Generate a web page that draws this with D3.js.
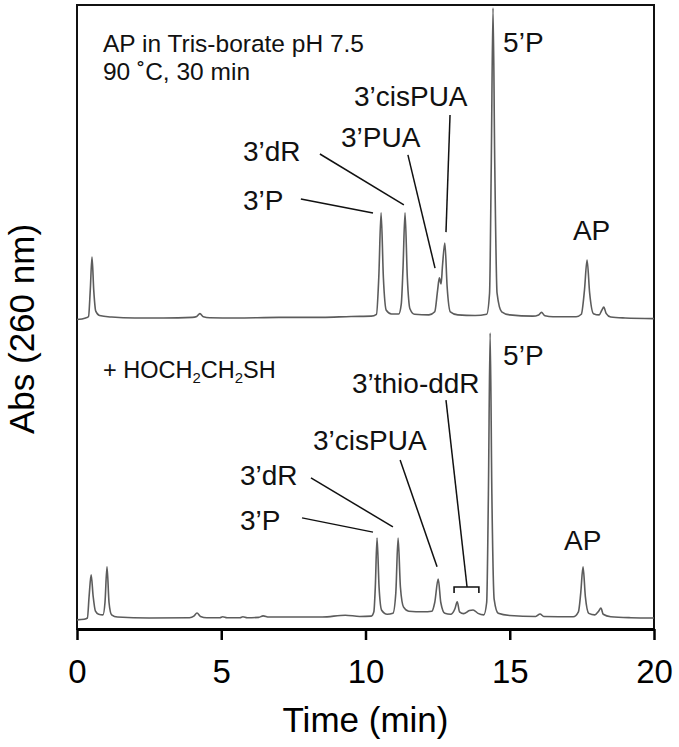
<!DOCTYPE html>
<html>
<head>
<meta charset="utf-8">
<script src="https://cdn.jsdelivr.net/npm/d3@7"></script>
<style>
  html, body { margin: 0; padding: 0; background: #fff; }
  svg { display: block; font-family: "Liberation Sans", Arial, Helvetica, sans-serif; }
</style>
</head>
<body>
<svg id="chart" width="679" height="747"></svg>
<script>
// ---------- DATA ----------
const xTicks = [0, 5, 10, 15, 20];

// upper trace: AP in Tris-borate pH 7.5, 90 ˚C, 30 min
const topTime = [0.0, 0.3, 0.4, 0.46, 0.52, 0.58, 0.65, 0.78, 1.2, 2.0, 3.0, 4.0, 4.15, 4.26, 4.38, 4.6, 5.5, 7.0, 8.5, 9.5,
  10.2, 10.38, 10.46, 10.54, 10.62, 10.72, 10.9, 11.15, 11.24, 11.3, 11.37, 11.45, 11.54, 11.7, 12.2, 12.4, 12.5, 12.56, 12.62, 12.67,
  12.75, 12.83, 12.94, 13.2, 13.8, 14.2, 14.3, 14.36, 14.42, 14.48, 14.56, 14.72, 15.0, 15.8, 16.0, 16.1, 16.22, 16.5, 17.3, 17.48,
  17.59, 17.68, 17.77, 17.9, 18.1, 18.19, 18.26, 18.34, 18.5, 19.0, 20.0];
const topAbs = [-0.005, 0.0, 0.005, 0.09, 0.197, 0.09, 0.022, 0.008, 0.003, 0.0, 0.0, 0.002, 0.005, 0.014, 0.004, 0.001, 0.0, 0.002, 0.002, 0.005,
  0.006, 0.012, 0.13, 0.339, 0.13, 0.025, 0.013, 0.013, 0.045, 0.16, 0.339, 0.13, 0.03, 0.012, 0.01, 0.02, 0.09, 0.13, 0.11, 0.17,
  0.242, 0.1, 0.02, 0.01, 0.008, 0.012, 0.08, 0.5, 1.0, 0.5, 0.08, 0.02, 0.01, 0.006, 0.01, 0.018, 0.007, 0.004, 0.004, 0.012,
  0.09, 0.187, 0.08, 0.014, 0.01, 0.025, 0.035, 0.015, 0.003, 0.0, -0.002];

// lower trace: + HOCH2CH2SH
const botTime = [0.0, 0.25, 0.36, 0.42, 0.49, 0.56, 0.64, 0.75, 0.9, 0.97, 1.04, 1.11, 1.2, 1.4, 2.5, 3.9, 4.05, 4.16, 4.28, 4.5,
  4.95, 5.05, 5.2, 5.65, 5.75, 5.9, 6.3, 6.45, 6.65, 8.5, 9.3, 9.8, 10.2, 10.29, 10.34, 10.4, 10.47, 10.56, 10.75, 10.95,
  11.05, 11.13, 11.21, 11.32, 11.5, 12.0, 12.3, 12.4, 12.52, 12.61, 12.75, 12.95, 13.1, 13.18, 13.26, 13.4, 13.6, 13.73, 13.9, 14.1,
  14.2, 14.26, 14.32, 14.38, 14.46, 14.6, 15.0, 15.9, 16.05, 16.18, 17.2, 17.38, 17.46, 17.54, 17.62, 17.74, 17.95, 18.08, 18.16, 18.24,
  18.5, 19.2, 20.0];
const botAbs = [-0.006, -0.004, 0.0, 0.07, 0.139, 0.07, 0.022, 0.012, 0.01, 0.05, 0.165, 0.05, 0.01, 0.003, 0.0, 0.001, 0.006, 0.016, 0.005, 0.001,
  0.001, 0.004, 0.001, 0.001, 0.004, 0.001, 0.002, 0.007, 0.003, 0.003, 0.009, 0.005, 0.006, 0.02, 0.1, 0.258, 0.1, 0.025, 0.012, 0.015,
  0.08, 0.258, 0.1, 0.035, 0.022, 0.02, 0.022, 0.05, 0.126, 0.05, 0.015, 0.012, 0.03, 0.052, 0.02, 0.014, 0.024, 0.026, 0.015, 0.01,
  0.05, 0.4, 0.919, 0.4, 0.06, 0.015, 0.008, 0.005, 0.013, 0.005, 0.004, 0.02, 0.08, 0.165, 0.07, 0.015, 0.01, 0.022, 0.032, 0.012,
  0.004, 0.001, 0.0];

// peak labels
const topLabels = ["5’P", "3’cisPUA", "3’PUA", "3’dR", "3’P", "AP"];
const botLabels = ["5’P", "3’thio-ddR", "3’cisPUA", "3’dR", "3’P", "AP"];

// ---------- LAYOUT ----------
const svg = d3.select("#chart");
const L = 77, R = 654, T = 5, B = 629;
const x = d3.scaleLinear().domain([0, 20]).range([L, R]);
const yTop = d3.scaleLinear().domain([0, 1]).range([318, 8]);
const yBot = d3.scaleLinear().domain([0, 1]).range([618, 308]);

// annotation placement in data coordinates [time, abs]
const topLabelPos = [[14.77, 0.858], [9.6, 0.684], [9.15, 0.552], [5.75, 0.506], [5.75, 0.348], [17.19, 0.252]];
const topLeaders = [null, [[12.93, 0.655], [12.79, 0.277]], [[11.47, 0.526], [12.41, 0.161]],
  [[8.42, 0.529], [11.33, 0.365]], [[7.76, 0.384], [10.26, 0.339]], null];
const botLabelPos = [[14.77, 0.816], [9.53, 0.726], [8.18, 0.542], [5.65, 0.429], [5.65, 0.284], [16.88, 0.219]];
const botLeaders = [null, [[12.79, 0.703], [13.52, 0.1]], [[11.2, 0.51], [12.48, 0.165]],
  [[8.11, 0.452], [10.95, 0.294]], [[7.8, 0.323], [10.26, 0.277]], null];

// frame
svg.append("rect").attr("x", L).attr("y", T).attr("width", R - L).attr("height", B - T)
  .attr("fill", "none").attr("stroke", "#111").attr("stroke-width", 2);

// traces
const line = (ys) => d3.line().x(d => x(d[0])).y(d => ys(d[1])).curve(d3.curveMonotoneX);
svg.append("path").datum(topTime.map((t, i) => [t, topAbs[i]]))
  .attr("d", line(yTop)).attr("fill", "none").attr("stroke", "#5c5c5c").attr("stroke-width", 1.6);
svg.append("path").datum(botTime.map((t, i) => [t, botAbs[i]]))
  .attr("d", line(yBot)).attr("fill", "none").attr("stroke", "#5c5c5c").attr("stroke-width", 1.6);

// x axis
const ax = svg.append("g").attr("transform", `translate(0,${B})`)
  .call(d3.axisBottom(x).tickValues(xTicks).tickSize(11).tickSizeOuter(0).tickPadding(20).tickFormat(d3.format("d")));
ax.select(".domain").attr("stroke", "#000").attr("stroke-width", 3);
ax.selectAll(".tick line").attr("stroke", "#000").attr("stroke-width", 2.5);
ax.selectAll(".tick text").attr("fill", "#000").attr("font-size", 33).attr("font-family", "Liberation Sans, Arial, sans-serif");

// axis titles
svg.append("text").attr("x", (L + R) / 2).attr("y", 732).attr("text-anchor", "middle")
  .attr("font-size", 35).attr("fill", "#000").text("Time (min)");
svg.append("text").attr("transform", `translate(34,${329}) rotate(-90)`).attr("text-anchor", "middle")
  .attr("font-size", 35).attr("fill", "#000").text("Abs (260 nm)");

// panel conditions
svg.append("text").attr("x", x(0.9)).attr("y", yTop(0.858)).attr("font-size", 24.5).attr("fill", "#111")
  .text("AP in Tris-borate pH 7.5");
svg.append("text").attr("x", x(0.9)).attr("y", yTop(0.768)).attr("font-size", 24.5).attr("fill", "#111")
  .text("90 ˚C, 30 min");
const cond = svg.append("text").attr("x", x(0.9)).attr("y", yBot(0.774)).attr("font-size", 23.5).attr("fill", "#111");
cond.append("tspan").text("+ HOCH");
cond.append("tspan").attr("font-size", 15).attr("dy", 5).text("2");
cond.append("tspan").attr("dy", -5).text("CH");
cond.append("tspan").attr("font-size", 15).attr("dy", 5).text("2");
cond.append("tspan").attr("dy", -5).text("SH");

// labels + leaders
function annotate(labels, pos, leaders, ys) {
  labels.forEach((lab, i) => {
    svg.append("text").attr("x", x(pos[i][0])).attr("y", ys(pos[i][1]))
      .attr("font-size", 28).attr("fill", "#111").text(lab);
    const l = leaders[i];
    if (l) {
      svg.append("line").attr("x1", x(l[0][0])).attr("y1", ys(l[0][1]))
        .attr("x2", x(l[1][0])).attr("y2", ys(l[1][1]))
        .attr("stroke", "#111").attr("stroke-width", 1.5);
    }
  });
}
annotate(topLabels, topLabelPos, topLeaders, yTop);
annotate(botLabels, botLabelPos, botLeaders, yBot);

// bracket for 3'thio-ddR
const br = [[13.07, 0.081], [13.07, 0.1], [13.93, 0.1], [13.93, 0.081]];
svg.append("path").datum(br).attr("d", d3.line().x(d => x(d[0])).y(d => yBot(d[1])))
  .attr("fill", "none").attr("stroke", "#111").attr("stroke-width", 1.6);
</script>
</body>
</html>
